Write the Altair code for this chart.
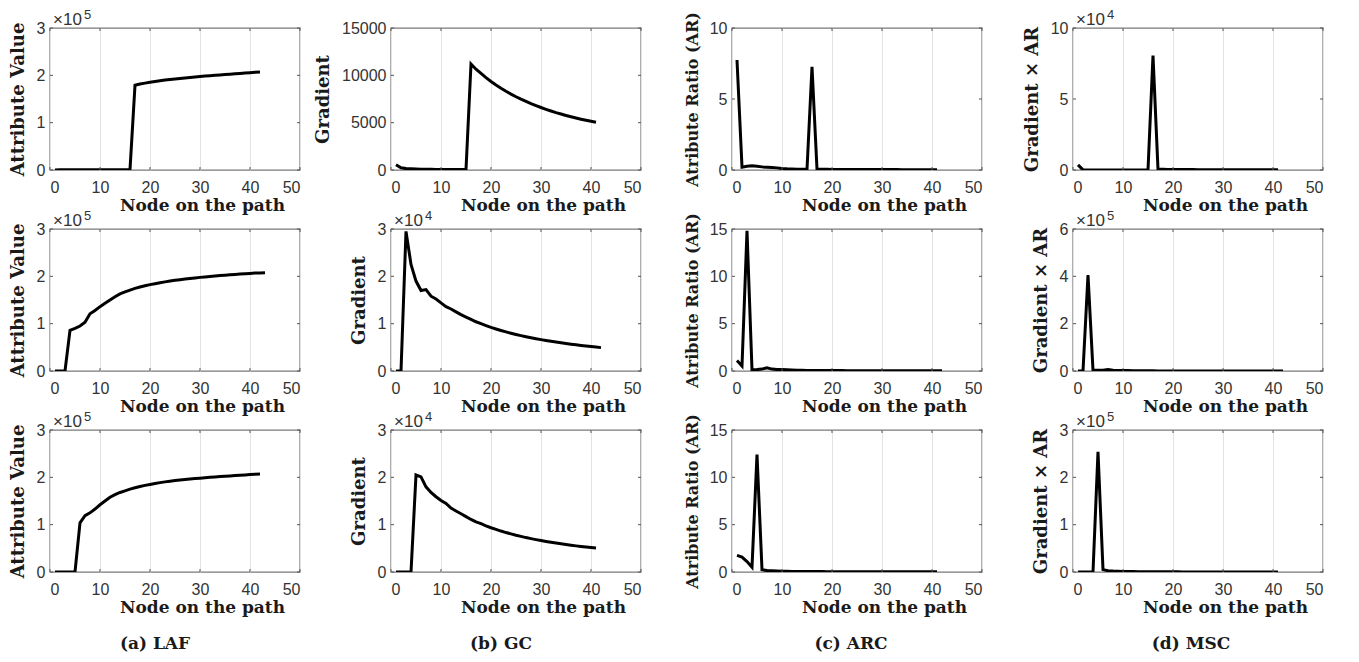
import altair as alt
import pandas as pd

# ---------------- data ----------------
# Row 1
x_attr1 = list(range(1, 43))
attr1 = [0, 400, 450, 500, 550, 580, 600, 620, 640, 650, 660, 670, 680, 690, 700, 710,
         179000, 181500, 183500, 185500, 187000, 188500, 190000, 191200, 192400, 193500,
         194600, 195600, 196600, 197500, 198400, 199300, 200100, 200900, 201700, 202500,
         203300, 204100, 204900, 205700, 206400, 207000]
x_g1 = list(range(1, 42))
grad1 = [550, 230, 150, 120, 100, 90, 80, 70, 65, 60, 55, 50, 50, 45, 45,
         11200, 10650, 10200, 9760, 9350, 8980, 8640, 8320, 8020, 7740, 7480, 7240, 7010,
         6800, 6600, 6410, 6230, 6060, 5910, 5760, 5620, 5490, 5370, 5250, 5140, 5040]
ar1 = [7.75, 0.2, 0.27, 0.3, 0.26, 0.22, 0.2, 0.18, 0.15, 0.1, 0.08, 0.07, 0.06, 0.06, 0.05,
       7.27, 0.05, 0.05, 0.05, 0.04, 0.04, 0.04, 0.04, 0.04, 0.03, 0.03, 0.03, 0.03, 0.03,
       0.03, 0.03, 0.03, 0.03, 0.02, 0.02, 0.02, 0.02, 0.02, 0.02, 0.02, 0.02]
msc1 = [3600, 50, 40, 30, 20, 15, 10, 10, 8, 6, 5, 4, 3, 3, 2,
        80600, 500, 450, 400, 350, 330, 310, 290, 270, 240, 220, 210, 200, 190, 180, 170,
        160, 150, 120, 110, 110, 100, 100, 100, 100, 100]

# Row 2
x_attr2 = list(range(1, 44))
attr2 = [0, 0, 0, 86000, 90000, 95000, 103000, 121000, 128000, 136000, 143000, 150000,
         157000, 163000, 167000, 171000, 174500, 177500, 180000, 182500, 184500, 186500,
         188300, 190000, 191500, 193000, 194300, 195500, 196700, 197800, 198800, 199800,
         200700, 201600, 202400, 203200, 204000, 204800, 205500, 206200, 206800, 207300, 207600]
x_g2 = list(range(1, 43))
grad2 = [0, 0, 29500, 22500, 19000, 17000, 17200, 15800, 15200, 14400, 13600, 13100, 12500,
         11900, 11400, 10900, 10400, 10000, 9600, 9200, 8880, 8560, 8260, 7980, 7720, 7470,
         7240, 7030, 6820, 6630, 6450, 6270, 6110, 5950, 5810, 5670, 5540, 5410, 5290, 5170,
         5060, 4940]
ar2 = [1.12, 0.53, 14.8, 0.14, 0.15, 0.2, 0.35, 0.2, 0.15, 0.15, 0.12, 0.1, 0.08, 0.07, 0.06,
       0.05, 0.05, 0.05, 0.04, 0.04, 0.04, 0.04, 0.03, 0.03, 0.03, 0.03, 0.03, 0.03, 0.03,
       0.03, 0.02, 0.02, 0.02, 0.02, 0.02, 0.02, 0.02, 0.02, 0.02, 0.02, 0.02, 0.02]
msc2 = [0, 0, 405000, 3200, 2800, 3400, 6000, 3200, 2300, 2200, 1600, 1300, 1000, 850, 680,
        550, 520, 500, 380, 360, 350, 340, 250, 240, 230, 220, 210, 200, 200, 200,
        130, 125, 120, 120, 115, 110, 110, 110, 105, 100, 100, 100]

# Row 3
x_attr3 = list(range(1, 43))
attr3 = [0, 0, 0, 0, 0, 104000, 119000, 125000, 133000, 142000, 150000, 158000, 163500,
         168000, 171500, 175000, 178000, 180500, 183000, 185000, 187000, 188800, 190400,
         191800, 193100, 194300, 195400, 196400, 197400, 198300, 199200, 200000, 200800,
         201600, 202300, 203000, 203700, 204400, 205100, 205800, 206400, 207000]
x_g3 = list(range(1, 42))
grad3 = [0, 0, 0, 0, 20500, 20100, 18000, 16800, 15900, 15100, 14500, 13500, 12900, 12300,
         11700, 11100, 10600, 10200, 9750, 9350, 9000, 8650, 8330, 8050, 7770, 7520, 7270,
         7050, 6840, 6640, 6450, 6280, 6110, 5950, 5800, 5660, 5520, 5400, 5280, 5160, 5050]
ar3 = [1.75, 1.58, 1.1, 0.5, 12.4, 0.25, 0.15, 0.12, 0.1, 0.08, 0.07, 0.06, 0.05, 0.05,
       0.04, 0.04, 0.04, 0.04, 0.03, 0.03, 0.03, 0.03, 0.03, 0.03, 0.03, 0.03, 0.03,
       0.02, 0.02, 0.02, 0.02, 0.02, 0.02, 0.02, 0.02, 0.02, 0.02, 0.02, 0.02, 0.02, 0.02]
msc3 = [0, 0, 0, 0, 254000, 5000, 2700, 2000, 1600, 1200, 1000, 800, 650, 620, 470, 440, 420,
        410, 290, 280, 270, 260, 250, 240, 230, 225, 220, 140, 135, 130, 125, 125, 120, 120,
        115, 115, 110, 108, 106, 104, 100]

x_ticks = [0, 10, 20, 30, 40, 50]
y_titles = ["Attribute Value", "Gradient", "Atribute Ratio (AR)", "Gradient \u00d7 AR"]
y_title_sizes = [18, 18, 16, 18]
x_title = "Node on the path"
captions = ["(a) LAF", "(b) GC", "(c) ARC", "(d) MSC"]

# per-panel y axis: (ticks, divisor, exponent)
yaxes = [
    [([0, 1e5, 2e5, 3e5], 1e5, "5"), ([0, 5000, 10000, 15000], 1, ""),
     ([0, 5, 10], 1, ""), ([0, 5e4, 1e5], 1e4, "4")],
    [([0, 1e5, 2e5, 3e5], 1e5, "5"), ([0, 1e4, 2e4, 3e4], 1e4, "4"),
     ([0, 5, 10, 15], 1, ""), ([0, 2e5, 4e5, 6e5], 1e5, "5")],
    [([0, 1e5, 2e5, 3e5], 1e5, "5"), ([0, 1e4, 2e4, 3e4], 1e4, "4"),
     ([0, 5, 10, 15], 1, ""), ([0, 1e5, 2e5, 3e5], 1e5, "5")],
]
series = [
    [(x_attr1, attr1), (x_g1, grad1), (x_g1, ar1), (x_g1, msc1)],
    [(x_attr2, attr2), (x_g2, grad2), (x_g2, ar2), (x_g2, msc2)],
    [(x_attr3, attr3), (x_g3, grad3), (x_g3, ar3), (x_g3, msc3)],
]
caption_x = [105, 110, 119, 118]

W, H = 250, 142
SERIF = "DejaVu Serif"
SANS = "Liberation Sans"
TICK_COL = "#333333"


def panel(r, c):
    xs, ys = series[r][c]
    ticks, div, exp = yaxes[r][c]
    ymax = ticks[-1]
    df = pd.DataFrame({"x": xs, "y": ys})
    if div == 1:
        label_expr = "format(datum.value, 'd')"
    else:
        label_expr = "format(datum.value / %g, 'd')" % div
    xsc = alt.Scale(domain=[0, 50], nice=False, zero=False)
    ysc = alt.Scale(domain=[0, ymax], nice=False)
    xax = alt.Axis(values=x_ticks, title=x_title, grid=True, ticks=False,
                   domain=False, labelPadding=9, titlePadding=2, titleX=152,
                   titleFontSize=17, gridColor="#e3e3e3", gridWidth=1)
    yax = alt.Axis(values=ticks, title=y_titles[c], grid=False, ticks=False,
                   domain=False, labelPadding=5, titlePadding=9,
                   titleFontSize=y_title_sizes[c], labelExpr=label_expr)
    line = alt.Chart(df).mark_line(color="black", strokeWidth=3, clip=True).encode(
        x=alt.X("x:Q", scale=xsc, axis=xax),
        y=alt.Y("y:Q", scale=ysc, axis=yax),
    )
    layers = [line]
    # inward tick marks on all four sides
    ydf = pd.DataFrame({"y": ticks})
    xdf = pd.DataFrame({"x": x_ticks})
    for a, b in [(0, 3), (W - 3, W)]:
        layers.append(alt.Chart(ydf).mark_rule(color="#555555", strokeWidth=1).encode(
            y=alt.Y("y:Q", scale=ysc, axis=yax), x=alt.value(a), x2=alt.value(b)))
    for a, b in [(H, H - 3), (0, 3)]:
        layers.append(alt.Chart(xdf).mark_rule(color="#555555", strokeWidth=1).encode(
            x=alt.X("x:Q", scale=xsc, axis=xax), y=alt.value(a), y2=alt.value(b)))
    if exp:
        layers.append(alt.Chart(pd.DataFrame({"t": ["\u00d710"]})).mark_text(
            font=SANS, fontSize=17, color=TICK_COL, align="left", baseline="alphabetic"
        ).encode(x=alt.value(3), y=alt.value(-3), text="t:N"))
        layers.append(alt.Chart(pd.DataFrame({"t": [exp]})).mark_text(
            font=SANS, fontSize=13, color=TICK_COL, align="left", baseline="alphabetic"
        ).encode(x=alt.value(34), y=alt.value(-9), text="t:N"))
    if r == 2:
        layers.append(alt.Chart(pd.DataFrame({"t": [captions[c]]})).mark_text(
            font=SERIF, fontSize=17, fontWeight="bold", color="#1a1a1a", align="center",
            baseline="middle"
        ).encode(x=alt.value(caption_x[c]), y=alt.value(H + 72), text="t:N"))
    return alt.layer(*layers).properties(width=W, height=H)


panels = [panel(r, c) for r in range(3) for c in range(4)]

chart = alt.concat(*panels, columns=4, spacing={"row": 59, "column": 91},
                   bounds="flush").properties(
    padding={"left": 0, "top": 0, "right": 5, "bottom": 0}
).configure_view(
    stroke="#7a7a7a", strokeWidth=1.4
).configure_axis(
    labelFont=SANS, labelFontSize=16, labelColor=TICK_COL,
    titleFont=SERIF, titleFontWeight="bold", titleColor="#1a1a1a",
)

chart.save("out.html", embed_options={"renderer": "svg", "actions": False})
